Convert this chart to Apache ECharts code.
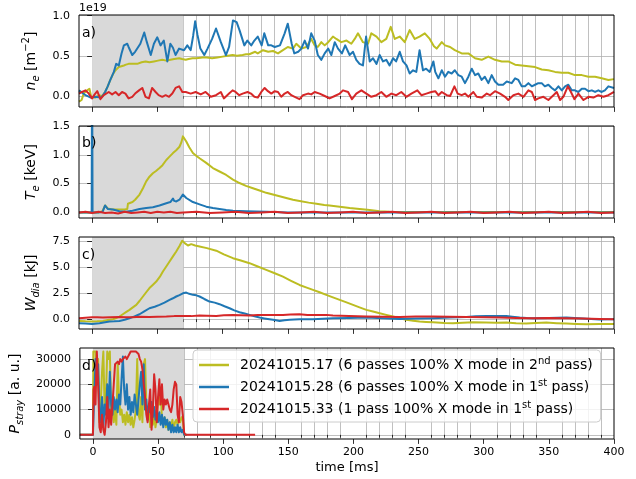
<!DOCTYPE html>
<html>
<head>
<meta charset="utf-8">
<script src="https://cdn.jsdelivr.net/npm/echarts@6/dist/echarts.min.js"></script>
<style>
  html, body { margin: 0; padding: 0; background: #fff; }
  #chart { width: 636px; height: 479px; }
</style>
</head>
<body>
<div id="chart"></div>
<script>
// ---- shots ----
const shotNames = ['20241015.17', '20241015.28', '20241015.33'];
const shotColors = ['#bcbd22', '#1f77b4', '#d62728'];
const legendParts = {
  '20241015.17': ['20241015.17 (6 passes 100% X mode in 2', 'nd', ' pass)'],
  '20241015.28': ['20241015.28 (6 passes 100% X mode in 1', 'st', ' pass)'],
  '20241015.33': ['20241015.33 (1 pass 100% X mode in 1', 'st', ' pass)']
};

// ---- time axis ----
const timeMajorTicks = [0, 50, 100, 150, 200, 250, 300, 350, 400];
const timeMinorTicks = [0, 10, 20, 30, 40, 60, 70, 80, 90, 110, 120, 130, 140, 160, 170, 180, 190,
  210, 220, 230, 240, 260, 270, 280, 290, 310, 320, 330, 340, 360, 370, 380, 390];
const heatingWindow = [0, 70];

// ---- y ticks per panel ----
const neTicks = [0, 0.5, 1.0];
const teTicks = [0, 0.5, 1.0, 1.5];
const wTicks = [0, 2.5, 5.0, 7.5];
const pTicks = [0, 10000, 20000, 30000];

// ---- line-integrated density n_e [1e19 m^-2]: [time ms, value] ----
const ne17 = [[-10,-0.07],[-8,-0.05],[-6.4,0.03],[-3.8,0.07],[-2,0.09],[-0.5,-0.02],[2.5,-0.02],[5,0.01],[7.7,0.0],[10,0.05],[12,0.12],[14,0.2],[16,0.27],[18,0.32],[20.5,0.36],[22.5,0.37],[24.4,0.38],[26,0.39],[28,0.40],[31,0.40],[34.6,0.40],[38,0.42],[41,0.43],[44,0.42],[47.4,0.43],[50.5,0.44],[53.8,0.45],[57,0.44],[60,0.45],[63,0.46],[66.7,0.47],[69,0.46],[71.8,0.45],[74,0.46],[77,0.47],[80,0.47],[84.6,0.48],[88,0.48],[92,0.47],[96,0.48],[100,0.49],[104,0.50],[107.7,0.51],[111,0.50],[115.4,0.51],[118,0.52],[120.5,0.52],[125,0.55],[127,0.53],[131,0.57],[135,0.55],[138.7,0.56],[142.5,0.53],[146.3,0.57],[150,0.61],[154,0.59],[156.5,0.65],[160.4,0.59],[164.2,0.61],[168,0.71],[170.6,0.63],[173,0.61],[175.7,0.67],[178.3,0.63],[181,0.67],[184.6,0.74],[187.2,0.71],[191,0.67],[195,0.69],[198.7,0.65],[201.3,0.71],[203.8,0.78],[207.6,0.67],[211.5,0.65],[214,0.78],[218,0.74],[221.7,0.67],[225.5,0.71],[228.9,0.86],[232,0.71],[235.8,0.74],[239.6,0.67],[243.4,0.82],[247.3,0.71],[251,0.74],[255,0.78],[258.8,0.71],[262,0.62],[264.1,0.59],[268,0.67],[270.5,0.63],[274.4,0.61],[278,0.57],[283.3,0.53],[288.4,0.53],[293.5,0.47],[298.6,0.45],[303.7,0.49],[308.8,0.45],[314,0.43],[319,0.43],[324.2,0.39],[329.3,0.38],[334.4,0.37],[339.5,0.36],[344.6,0.33],[349.7,0.32],[354.8,0.30],[360,0.29],[365,0.29],[370,0.26],[375.3,0.26],[380.4,0.24],[385.5,0.24],[390.6,0.22],[395.7,0.20],[400,0.21]];
const ne28 = [[-10,0.07],[-7.5,0.04],[-5,0.01],[-1,-0.02],[2.5,-0.01],[6.4,-0.02],[8,0.0],[10,0.05],[12,0.12],[14,0.2],[16.7,0.3],[18.5,0.4],[20.5,0.38],[22.6,0.53],[24.4,0.63],[27,0.65],[28,0.61],[30.8,0.51],[33,0.55],[37,0.65],[40,0.79],[42,0.67],[45,0.51],[47.4,0.65],[50,0.73],[52.5,0.63],[55,0.69],[57.7,0.43],[60,0.65],[62,0.60],[64,0.51],[66.7,0.59],[70.5,0.57],[73,0.63],[75.6,0.57],[77.5,0.75],[79,0.93],[80.8,0.76],[83,0.59],[86,0.51],[88.5,0.59],[92,0.71],[95,0.84],[98.7,0.67],[102.6,0.51],[105,0.61],[108,0.94],[110.8,0.92],[113,0.82],[116.7,0.63],[119,0.69],[122,0.63],[124.4,0.69],[127,0.74],[130,0.63],[132,0.78],[135,0.63],[137.4,0.63],[140,0.61],[144,0.63],[147.6,0.78],[150,0.90],[151.4,0.88],[153,0.65],[155,0.53],[158,0.55],[160.4,0.59],[163,0.69],[165.5,0.59],[168,0.78],[170.6,0.69],[173,0.51],[175.7,0.45],[178.3,0.53],[181,0.59],[183.4,0.51],[186,0.67],[188.5,0.59],[191.5,0.53],[194,0.63],[197.4,0.51],[200,0.55],[202.5,0.45],[205,0.40],[207.6,0.38],[210,0.74],[212.8,0.43],[215.3,0.47],[218,0.40],[220.4,0.51],[223,0.43],[225.5,0.45],[228,0.38],[230.7,0.47],[233,0.43],[235.8,0.55],[238.3,0.43],[241,0.38],[243.4,0.28],[246,0.32],[248.5,0.30],[251,0.57],[253.6,0.32],[256,0.34],[258.8,0.30],[261.6,0.43],[263,0.30],[265.4,0.22],[268,0.32],[270.5,0.24],[273,0.30],[275.6,0.28],[278,0.32],[280.7,0.26],[283.3,0.24],[285.8,0.16],[288.4,0.24],[291,0.34],[293.5,0.26],[296,0.28],[298.6,0.20],[301,0.24],[303.7,0.16],[306.3,0.26],[308.8,0.18],[311.4,0.14],[315,0.14],[317.8,0.18],[321.6,0.16],[324.2,0.22],[326.7,0.20],[329.3,0.12],[331.8,0.12],[334.4,0.16],[337,0.12],[339.5,0.14],[342,0.16],[344.6,0.16],[347,0.12],[349.7,0.14],[352.3,0.10],[354.8,0.07],[357.4,0.12],[360,0.07],[362.5,0.12],[365,0.14],[367.6,0.07],[370,0.07],[372.7,0.05],[375.3,0.09],[377.8,0.09],[380.4,0.06],[383,0.07],[385.5,0.05],[388,0.07],[390.6,0.05],[393,0.07],[395.7,0.12],[400,0.10]];
const ne33 = [[-10,0.03],[-7.7,0.05],[-5,0.07],[-2.5,0.03],[0,-0.03],[2,0.02],[4,0.06],[6.4,-0.04],[9,0.01],[12.8,0.05],[15.4,0.02],[18,0.05],[20.5,0.01],[23,0.05],[25.6,0.03],[28,-0.03],[30.8,-0.01],[33,0.03],[36,0.07],[38.5,0.10],[41,-0.01],[43.6,-0.03],[46,0.10],[48.7,0.05],[51,0.01],[53.8,-0.01],[56.4,0.01],[59,-0.01],[61.5,0.03],[64,0.10],[66.7,0.12],[69.2,0.05],[71.8,0.05],[75.6,0.03],[79.4,0.05],[83.3,0.02],[87,0.05],[91,-0.01],[95,0.01],[98.7,0.05],[101,-0.03],[105,0.03],[107.7,0.07],[110,0.05],[112.8,0.01],[115.4,0.03],[119.2,0.05],[121.8,0.03],[124.4,-0.01],[127,-0.02],[129.7,0.05],[132.3,0.10],[134.8,0.06],[137.4,0.03],[140,0.06],[142.5,0.05],[145,-0.01],[147.6,0.03],[150,0.05],[152.7,0.01],[155.3,-0.01],[159,-0.04],[161.7,0.01],[165.5,0.03],[168,0.02],[170.6,0.05],[174.4,0.03],[178.3,0.0],[182,-0.03],[186,0.0],[189.8,0.03],[192.3,0.07],[196.2,0.05],[199.2,-0.04],[202.5,0.03],[206.4,0.07],[210.2,0.03],[214,-0.01],[218,0.01],[221.7,0.05],[225.5,-0.01],[229.4,0.03],[233.2,0.01],[237,0.05],[240.9,-0.01],[244.7,0.03],[249.3,0.07],[252.4,0.01],[256.2,0.03],[260,0.05],[263,0.06],[265.4,0.01],[268,0.05],[271.8,0.01],[274.4,0.0],[277.7,0.12],[280.2,0.03],[283.3,0.01],[285.8,0.03],[288.4,-0.01],[292.2,0.05],[294.8,-0.01],[298.6,-0.02],[302.5,0.03],[305,0.01],[308.8,0.06],[312.7,0.03],[316.5,-0.01],[319,-0.05],[322.9,0.01],[326.7,0.03],[330.6,-0.01],[334.4,0.07],[337,0.05],[339.5,-0.05],[342,-0.03],[345.9,-0.01],[349.7,-0.05],[353.6,0.01],[356.1,0.05],[358.7,-0.05],[361.2,-0.01],[364.6,0.12],[367,0.05],[369.7,-0.04],[372.7,0.03],[376.6,-0.05],[380.4,-0.01],[384.2,-0.02],[388,0.01],[391.9,-0.01],[395.7,0.01],[400,0.05]];

// ---- electron temperature T_e [keV] ----
const te17 = [[-10,0.0],[-5,0.0],[0,0.0],[5,0.0],[8,0.02],[10,0.12],[12,0.07],[15,0.05],[20,0.05],[25,0.05],[27,0.06],[27.5,0.15],[29,0.16],[31,0.18],[33,0.22],[36.4,0.31],[39,0.42],[41.5,0.54],[44,0.62],[46.6,0.68],[49,0.72],[51.7,0.77],[54,0.82],[56.9,0.91],[59,0.96],[62,1.03],[64.5,1.08],[67,1.14],[68.5,1.22],[69.6,1.32],[70.5,1.31],[72.2,1.23],[74.5,1.13],[77.3,1.03],[80,0.98],[82.4,0.94],[87.5,0.86],[92.6,0.77],[97.7,0.71],[102.8,0.65],[108,0.57],[113,0.51],[118,0.46],[123.3,0.42],[128.4,0.38],[133.5,0.34],[138.6,0.31],[143.7,0.28],[148.8,0.25],[154,0.22],[159,0.20],[166,0.17],[172,0.15],[178,0.13],[182,0.12],[189.8,0.10],[197.4,0.075],[205.1,0.06],[212.8,0.04],[220.4,0.02],[228,0.01],[240,0.005],[260,0.005],[300,0.005],[350,0.005],[400,0.005]];
const te28 = [[-10,0.0],[-5,0.0],[-0.3,0.0],[0,3.0],[0.4,0.0],[5,0.0],[8,0.01],[10,0.12],[12,0.06],[16,0.05],[21,0.02],[26,0.01],[31,0.03],[36.4,0.06],[41.5,0.075],[46.6,0.09],[51.7,0.12],[56.9,0.16],[60,0.18],[62,0.24],[63,0.2],[64.6,0.19],[67,0.22],[69.6,0.31],[72.2,0.25],[77.3,0.18],[82.4,0.14],[87.5,0.10],[92.6,0.075],[97.7,0.06],[102.8,0.04],[108,0.03],[118,0.02],[133.5,0.01],[150,0.0],[200,0.0],[250,0.0],[300,0.0],[350,0.0],[400,0.0]];
const te33 = [[-10,0.0],[-5,0.01],[0,-0.01],[5,0.01],[10,-0.01],[15,0.0],[20,-0.02],[25,0.01],[30,-0.01],[35,0.0],[40,0.01],[45,-0.01],[50,0.01],[55,0.0],[60,0.01],[65,-0.01],[70,0.0],[80,0.01],[90,-0.01],[100,0.0],[110,0.01],[120,-0.01],[130,0.0],[140,0.01],[150,-0.01],[160,0.0],[170,0.01],[180,-0.01],[190,0.0],[200,0.01],[210,-0.01],[220,0.0],[230,0.01],[240,-0.01],[250,0.0],[260,0.01],[270,-0.01],[280,0.0],[290,0.01],[300,-0.01],[310,0.0],[320,0.01],[330,-0.01],[340,0.0],[350,0.01],[360,-0.01],[370,0.0],[380,0.01],[390,-0.01],[400,0.0]];

// ---- diamagnetic energy W_dia [kJ] ----
const w17 = [[-10,-0.16],[-5,-0.2],[0,-0.22],[4,-0.2],[8.3,-0.16],[12,-0.08],[16,0.0],[18.5,0.12],[21,0.26],[23.6,0.48],[26,0.68],[28.7,0.9],[31,1.12],[33.9,1.38],[36.5,1.78],[39,2.19],[41.5,2.6],[44,3.0],[46.5,3.3],[49.2,3.63],[52,4.1],[54.3,4.6],[57,5.1],[59.4,5.56],[62,6.05],[64.5,6.53],[67,7.05],[69.1,7.56],[71,7.33],[73.5,7.1],[76,7.23],[79,7.1],[82.4,7.0],[88,6.85],[95.2,6.6],[101,6.25],[108,5.88],[114,5.65],[120.7,5.4],[127,5.08],[133.5,4.76],[140,4.43],[146.3,4.1],[152.5,3.7],[159,3.3],[164,3.07],[169.3,2.83],[174.4,2.6],[179.5,2.35],[184.6,2.1],[189.8,1.86],[195,1.62],[200,1.38],[205,1.14],[210.2,0.9],[215.3,0.74],[220.4,0.58],[225.5,0.42],[230.6,0.26],[235.8,0.1],[240.9,-0.06],[246,-0.14],[251,-0.22],[256,-0.26],[261.3,-0.29],[270,-0.36],[276.6,-0.39],[284,-0.33],[292,-0.29],[302,-0.32],[310,-0.35],[317.5,-0.32],[325,-0.38],[332.8,-0.42],[340,-0.36],[348.2,-0.32],[356,-0.38],[363.5,-0.42],[371,-0.45],[379,-0.48],[389,-0.45],[395,-0.47],[400,-0.45]];
const w28 = [[-10,-0.39],[-5,-0.42],[0,-0.45],[5.7,-0.39],[10,-0.3],[13.4,-0.22],[17,-0.2],[21,-0.16],[25,-0.05],[28.7,0.1],[32.5,0.28],[36.4,0.48],[40,0.75],[44,1.06],[48,1.2],[51.7,1.38],[55.5,1.6],[59.4,1.86],[62,2.02],[64.5,2.19],[67,2.33],[69.6,2.5],[72.2,2.57],[74.5,2.45],[77.3,2.35],[80,2.3],[82.4,2.19],[86,1.95],[90,1.7],[94,1.6],[97.7,1.45],[101.5,1.25],[105.4,1.06],[109,0.85],[113,0.68],[117,0.55],[120.7,0.42],[124.5,0.28],[128.4,0.16],[132,0.08],[136,0.0],[140,-0.08],[143.7,-0.16],[147.5,-0.1],[151.4,-0.06],[155,-0.03],[159,0.0],[169.3,0.0],[177,0.05],[184.6,0.1],[197,0.13],[210.2,0.16],[223,0.1],[235.8,0.03],[248,0.07],[261.3,0.1],[274,0.16],[286.9,0.22],[294,0.28],[302.2,0.32],[310,0.3],[317.5,0.32],[322,0.25],[327.7,0.16],[333,0.12],[338,0.1],[350,0.13],[363.5,0.16],[376,0.08],[389,-0.03],[395,0.0],[400,0.0]];
const w33 = [[-10,0.1],[-5,0.15],[0,0.2],[4,0.18],[8.3,0.16],[14,0.2],[21,0.22],[26,0.2],[31,0.2],[37,0.24],[44,0.22],[50,0.24],[57,0.26],[63,0.3],[69.6,0.32],[76,0.3],[82.4,0.35],[88,0.33],[95.2,0.32],[101,0.38],[108,0.42],[114,0.38],[120.7,0.35],[127,0.4],[133.5,0.42],[140,0.4],[146.3,0.42],[152,0.45],[159,0.48],[165,0.4],[172,0.42],[179.5,0.42],[184.6,0.35],[197,0.3],[210.2,0.26],[223,0.25],[235.8,0.22],[248,0.26],[261.3,0.26],[274,0.24],[286.9,0.22],[300,0.2],[312.4,0.16],[325,0.13],[338,0.1],[350,0.12],[363.5,0.1],[376,0.07],[389,0.03],[400,0.0]];

// ---- stray radiation P_stray [a. u.] ----
const p17 = [[-10,0],[0,0],[0.3,33000],[1,33000],[2,33000],[3,20000],[4,30000],[5,5000],[6,12000],[7,25000],[8,33000],[9,10000],[10,15000],[11,33000],[12,30000],[13,33000],[14,8000],[15,12000],[16,5000],[17,10000],[18,4000],[19,28000],[20,15000],[21,8000],[22,10000],[23,5000],[24,8000],[25,4000],[26,9000],[27,5000],[28,8000],[29,4000],[30,7000],[31,3000],[32,6000],[33,10000],[34,30000],[35,8000],[36,6000],[37,15000],[38,5000],[39,28000],[40,30000],[41,12000],[42,6000],[43,10000],[44,3000],[45,7000],[46,4000],[47,8000],[48,3000],[49,6000],[50,15000],[51,12000],[52,18000],[53,6000],[54,4000],[55,7000],[56,3000],[57,6000],[58,2000],[59,5000],[60,3000],[61,6000],[62,2000],[63,5000],[64,6000],[65,4000],[66,6000],[67,5000],[68,7000],[69,6000],[70,0],[72,0]];
const p28 = [[-10,0],[0,0],[1,15000],[2,30000],[3,20000],[4,28000],[5,10000],[6,5000],[7,15000],[8,3000],[9,12000],[10,8000],[11,20000],[12,10000],[13,25000],[14,12000],[15,8000],[16,15000],[17,10000],[18,14000],[19,9000],[20,16000],[21,12000],[22,22000],[23,31000],[24,18000],[25,12000],[26,20000],[27,10000],[28,15000],[29,8000],[30,13000],[31,9000],[32,16000],[33,12000],[34,8000],[35,14000],[36,20000],[37,25000],[38,12000],[39,28000],[40,10000],[41,14000],[42,6000],[43,12000],[44,9000],[45,13000],[46,7000],[47,11000],[48,6000],[49,10000],[50,5000],[51,9000],[52,4000],[53,8000],[54,3000],[55,7000],[56,4000],[57,6000],[58,2000],[59,5000],[60,1000],[61,4000],[62,1000],[63,3000],[64,1000],[65,4000],[66,1000],[67,3000],[68,1000],[69,2000],[70,0],[72,0]];
const p33 = [[-10,0],[0,0],[0.5,18000],[1,19000],[2,12000],[3,33000],[4,20000],[5,3000],[6,1000],[7,8000],[8,2000],[9,0],[10,5000],[11,15000],[12,3000],[13,10000],[14,4000],[15,12000],[16,20000],[17,28000],[18,28000],[19,29000],[20,28000],[21,30000],[22,29000],[23,30000],[24,30000],[25,31000],[26,30000],[27,30000],[28,32000],[29,33000],[30,33000],[31,33000],[32,33000],[33,33000],[34,33000],[35,32000],[36,30000],[37,29000],[38,26000],[39,20000],[40,15000],[41,8000],[42,5000],[43,12000],[44,18000],[45,2000],[46,10000],[47,24000],[48,18000],[49,5000],[50,15000],[51,22000],[52,12000],[53,20000],[54,10000],[55,14000],[56,12000],[57,14000],[58,12000],[59,10000],[60,9000],[61,12000],[62,18000],[63,21000],[64,20000],[65,8000],[66,5000],[67,15000],[68,13000],[69,8000],[70,1000],[71,0],[124.5,0]];

// ---- panel layout ----
const FONT = 'DejaVu Sans';
const panels = [
  { top: 15, height: 92, min: -0.137, max: 1.008, ticks: neTicks, fmt: v => v.toFixed(1),
    name: '{i|n}{s|e}{r| [m}{p|\u22122}{r|]}', nameGap: 26, tag: 'a)', tagY: 34, series: [ne17, ne28, ne33] },
  { top: 126, height: 92, min: -0.097, max: 1.5, ticks: teTicks, fmt: v => v.toFixed(1),
    name: '{i|T}{s|e}{r| [keV]}', nameGap: 26, tag: 'b)', tagY: 144, series: [te17, te28, te33] },
  { top: 237, height: 92, min: -0.94, max: 7.92, ticks: wTicks, fmt: v => v.toFixed(1),
    name: '{i|W}{s|dia}{r| [kJ]}', nameGap: 26, tag: 'c)', tagY: 256, series: [w17, w28, w33] },
  { top: 348, height: 91, min: -1640, max: 34400, ticks: pTicks, fmt: v => String(v),
    name: '{i|P}{s|stray}{r| [a. u.]}', nameGap: 44, tag: 'd)', tagY: 367, series: [p17, p28, p33] }
];

const nameRich = {
  r: { fontFamily: FONT, fontSize: 14, color: '#000', lineHeight: 20 },
  i: { fontFamily: FONT, fontSize: 14, fontStyle: 'italic', color: '#000', lineHeight: 20 },
  s: { fontFamily: FONT, fontSize: 10, fontStyle: 'italic', color: '#000', lineHeight: 10, verticalAlign: 'bottom' },
  p: { fontFamily: FONT, fontSize: 10, color: '#000', lineHeight: 10, verticalAlign: 'top' }
};

const grid = [], xAxis = [], yAxis = [], series = [], graphic = [];

panels.forEach((p, i) => {
  const last = i === panels.length - 1;
  grid.push({ left: 79, right: 22, top: p.top, height: p.height, show: true, z: 3,
    backgroundColor: 'transparent', borderColor: '#000', borderWidth: 1 });

  // minor ticks + vertical grid every 10 ms
  xAxis.push({
    gridIndex: i, type: 'value', position: 'bottom', min: -10, max: 400, interval: 10,
    axisLine: { show: false },
    axisTick: { show: true, customValues: timeMinorTicks, length: 2.8, lineStyle: { color: '#000', width: 0.8 } },
    splitLine: { show: true, lineStyle: { color: '#b0b0b0', width: 0.8 } },
    axisLabel: last
      ? { show: true, customValues: timeMajorTicks, margin: 8, fontFamily: FONT, fontSize: 11, color: '#000' }
      : { show: false },
    name: last ? 'time [ms]' : '', nameLocation: 'middle', nameGap: 22,
    nameTextStyle: { fontFamily: FONT, fontSize: 13, color: '#000' }
  });
  // major ticks every 50 ms
  xAxis.push({
    gridIndex: i, type: 'value', position: 'bottom', min: -10, max: 400, interval: 10,
    axisLine: { show: false },
    axisTick: { show: true, customValues: timeMajorTicks, length: 4.9, lineStyle: { color: '#000', width: 0.8 } },
    splitLine: { show: false }, axisLabel: { show: false }
  });

  yAxis.push({
    gridIndex: i, type: 'value', min: p.min, max: p.max,
    axisLine: { show: false },
    axisTick: { show: true, customValues: p.ticks, length: 4.9, lineStyle: { color: '#000', width: 0.8 } },
    splitLine: { show: true, lineStyle: { color: '#b0b0b0', width: 0.8 } },
    axisLabel: { show: true, customValues: p.ticks, formatter: p.fmt, margin: 9,
      fontFamily: FONT, fontSize: 11, color: '#000' },
    name: p.name, nameLocation: 'middle', nameRotate: 90, nameGap: p.nameGap,
    nameTextStyle: { rich: nameRich }
  });

  // shaded heating window, below the grid lines
  series.push({
    type: 'line', xAxisIndex: 2 * i, yAxisIndex: i, data: [], z: -1, silent: true,
    markArea: { silent: true, itemStyle: { color: '#d9d9d9' },
      data: [[{ xAxis: heatingWindow[0] }, { xAxis: heatingWindow[1] }]] }
  });

  p.series.forEach((d, k) => {
    series.push({
      name: shotNames[k], type: 'line', xAxisIndex: 2 * i, yAxisIndex: i, data: d,
      showSymbol: false, symbol: 'none', silent: true, z: 2,
      lineStyle: { color: shotColors[k], width: 2, join: 'round' },
      itemStyle: { color: shotColors[k] },
      emphasis: { disabled: true }
    });
  });

  graphic.push({ type: 'text', left: 82, top: p.tagY - 8,
    style: { text: p.tag, fontFamily: FONT, fontSize: 14, fill: '#000' }, z: 10 });
});

graphic.push({ type: 'text', left: 79, top: 3,
  style: { text: '1e19', fontFamily: FONT, fontSize: 11, fill: '#000' }, z: 10 });

const chart = echarts.init(document.getElementById('chart'), null, { renderer: 'canvas' });
chart.setOption({
  animation: false,
  backgroundColor: '#fff',
  grid, xAxis, yAxis, series, graphic,
  legend: {
    data: shotNames, orient: 'vertical', left: 193, top: 350,
    padding: [6, 8, 6, 6], itemGap: 6, itemWidth: 30, itemHeight: 2.5, icon: 'rect',
    backgroundColor: 'rgba(255,255,255,0.8)', borderColor: '#cccccc', borderWidth: 1, borderRadius: 4,
    selectedMode: false,
    formatter: n => `{t|${legendParts[n][0]}}{u|${legendParts[n][1]}}{t|${legendParts[n][2]}}`,
    textStyle: {
      fontFamily: FONT, fontSize: 14, color: '#000', padding: [0, 0, 0, 6],
      rich: {
        t: { fontFamily: FONT, fontSize: 14, color: '#000', lineHeight: 18 },
        u: { fontFamily: FONT, fontSize: 10, color: '#000', lineHeight: 10, verticalAlign: 'top' }
      }
    }
  }
});
</script>
</body>
</html>
